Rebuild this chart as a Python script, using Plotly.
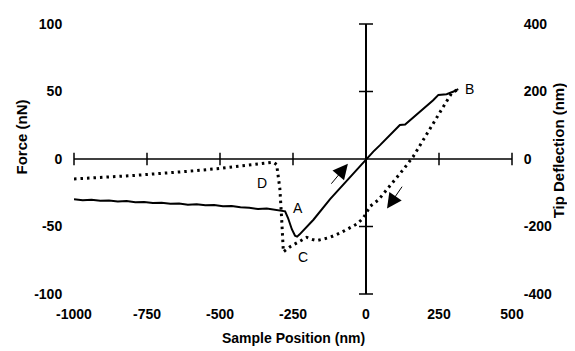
import plotly.graph_objects as go

# ---------------- data ----------------
solid_x = [-1000, -970, -940, -910, -880, -850, -820, -790, -760, -730, -700, -670, -640,
           -610, -580, -550, -520, -490, -460, -430, -400, -370, -340, -310, -290, -277,
           -267, -254, -243, -236, -228, -180, -123, -60, 0, 25, 48, 76, 100, 116, 134,
           170, 208, 230, 248, 262, 276, 300, 316]
solid_y = [-29.8, -30.5, -30.2, -31.0, -30.8, -31.5, -31.2, -32.0, -31.8, -32.6, -32.4, -33.2,
           -33.0, -33.8, -33.6, -34.3, -34.1, -35.0, -34.8, -35.8, -36.2, -37.0, -36.6, -37.8,
           -38.4, -38.8, -43.7, -52.0, -56.8, -57.5, -56.0, -45.0, -29.7, -14.5, 0.0, 5.5,
           10.3, 16.5, 22.0, 25.2, 25.5, 32.0, 39.0, 43.5, 47.5, 47.8, 48.0, 50.0, 51.8]

dot_x = [-1000, -900, -800, -740, -650, -580, -511, -450, -380, -317, -306, -295, -289,
         -285, -283, -260, -230, -203, -185, -169, -150, -123, -90, -55, -30, -9, 3, 14,
         42, 71, 100, 128, 162, 195, 230, 260, 293, 316]
dot_y = [-14.8, -13.7, -12.3, -11.3, -10.0, -8.6, -7.2, -5.8, -4.2, -2.4, -4.1, -22.0, -43.7,
         -60.4, -68.8, -65.0, -61.0, -58.0, -59.5, -60.4, -59.5, -58.0, -55.0, -50.9, -48.0,
         -43.7, -39.0, -35.0, -30.4, -23.0, -15.0, -7.7, 1.9, 14.0, 25.9, 37.0, 48.7, 51.8]

x_ticks = [-1000, -750, -500, -250, 0, 250, 500]
x_tick_text = ["-1000", "-750", "-500", "-250", "0", "250", "500"]
force_ticks = [-100, -50, 0, 50, 100]
force_tick_text = ["-100", "-50", "0", "50", "100"]
defl_ticks = [-400, -200, 0, 200, 400]
defl_tick_text = ["-400", "-200", "0", "200", "400"]
x_axis_marks = [-1000, -750, -500, -250, 250, 500]
y_axis_marks = [-100, -50, 50, 100]

point_labels = ["A", "B", "C", "D"]
label_x = [-233, 353, -216, -356]
label_y = [-36, 51.8, -72.7, -18]

arrow_tail_x = [-123, 127]
arrow_tail_y = [-19.4, -19.4]
arrow_head_x = [-62, 72]
arrow_head_y = [-3.6, -36.7]

FONT = "Liberation Sans, Arial, sans-serif"

fig = go.Figure()

# curves
fig.add_trace(go.Scatter(x=dot_x, y=dot_y, mode="lines",
                         line=dict(color="black", width=3, dash="2.5px,4px"),
                         cliponaxis=False, showlegend=False, hoverinfo="skip"))
fig.add_trace(go.Scatter(x=solid_x, y=solid_y, mode="lines",
                         line=dict(color="black", width=2),
                         cliponaxis=False, showlegend=False, hoverinfo="skip"))

# tick marks on the crossing axes
fig.add_trace(go.Scatter(x=x_axis_marks, y=[0] * len(x_axis_marks), mode="markers",
                         marker=dict(symbol="line-ns", size=9,
                                     line=dict(color="black", width=1.5)),
                         cliponaxis=False, showlegend=False, hoverinfo="skip"))
fig.add_trace(go.Scatter(x=[0] * len(y_axis_marks), y=y_axis_marks, mode="markers",
                         marker=dict(symbol="line-ew", size=10,
                                     line=dict(color="black", width=1.5)),
                         cliponaxis=False, showlegend=False, hoverinfo="skip"))
# empty trace to activate the right axis
fig.add_trace(go.Scatter(x=[None], y=[None], yaxis="y2", showlegend=False,
                         hoverinfo="skip"))

# crossing axis lines
fig.add_shape(type="line", xref="x", yref="y", x0=x_ticks[0], x1=x_ticks[-1], y0=0, y1=0,
              line=dict(color="black", width=1.5), layer="above")
fig.add_shape(type="line", xref="x", yref="y", x0=0, x1=0, y0=force_ticks[0],
              y1=force_ticks[-1], line=dict(color="black", width=2), layer="above")

# point labels
for t, lx, ly in zip(point_labels, label_x, label_y):
    fig.add_annotation(x=lx, y=ly, xref="x", yref="y", text=t, showarrow=False,
                       xanchor="center", yanchor="middle",
                       font=dict(family=FONT, size=14, color="black"))

# arrows
for tx, ty, hx, hy in zip(arrow_tail_x, arrow_tail_y, arrow_head_x, arrow_head_y):
    fig.add_annotation(x=hx, y=hy, ax=tx, ay=ty, xref="x", yref="y", axref="x", ayref="y",
                       text="", showarrow=True, arrowhead=2, arrowsize=3,
                       arrowwidth=1, arrowcolor="black")

# axis titles
fig.add_annotation(x=-0.119, y=0.583, xref="paper", yref="paper", text="Force (nN)",
                   textangle=-90, showarrow=False, xanchor="center", yanchor="middle",
                   font=dict(family=FONT, size=15, color="black", weight="bold"))
fig.add_annotation(x=1.105, y=0.532, xref="paper", yref="paper", text="Tip Deflection (nm)",
                   textangle=-90, showarrow=False, xanchor="center", yanchor="middle",
                   font=dict(family=FONT, size=15, color="black", weight="bold"))
fig.add_annotation(x=0.5, y=-0.162, xref="paper", yref="paper", text="Sample Position (nm)",
                   showarrow=False, xanchor="center", yanchor="middle",
                   font=dict(family=FONT, size=14, color="black", weight="bold"))

tickfont = dict(family=FONT, size=14, color="black", weight="bold")

# page body has an 8px default margin: figure is sized/offset to compensate
fig.update_layout(
    width=567, height=343,
    margin=dict(l=66, r=63, t=8, b=57),
    paper_bgcolor="white", plot_bgcolor="white",
    showlegend=False,
    xaxis=dict(range=[x_ticks[0], x_ticks[-1]], tickvals=x_ticks, ticktext=x_tick_text,
               showgrid=False, zeroline=False, showline=False, ticks="outside", ticklen=7,
               tickcolor="rgba(0,0,0,0)", tickfont=tickfont, fixedrange=True),
    yaxis=dict(range=[force_ticks[0], force_ticks[-1]], tickvals=force_ticks,
               ticktext=force_tick_text, showgrid=False, zeroline=False, showline=False,
               ticks="outside", ticklen=8, tickcolor="rgba(0,0,0,0)", tickfont=tickfont,
               ticklabeloverflow="allow", fixedrange=True),
    yaxis2=dict(range=[defl_ticks[0], defl_ticks[-1]], tickvals=defl_ticks,
                ticktext=defl_tick_text, overlaying="y", side="right", showgrid=False,
                zeroline=False, showline=False, ticks="outside", ticklen=8,
                tickcolor="rgba(0,0,0,0)", tickfont=tickfont, ticklabeloverflow="allow",
                fixedrange=True),
)

fig.write_html("out.html")
